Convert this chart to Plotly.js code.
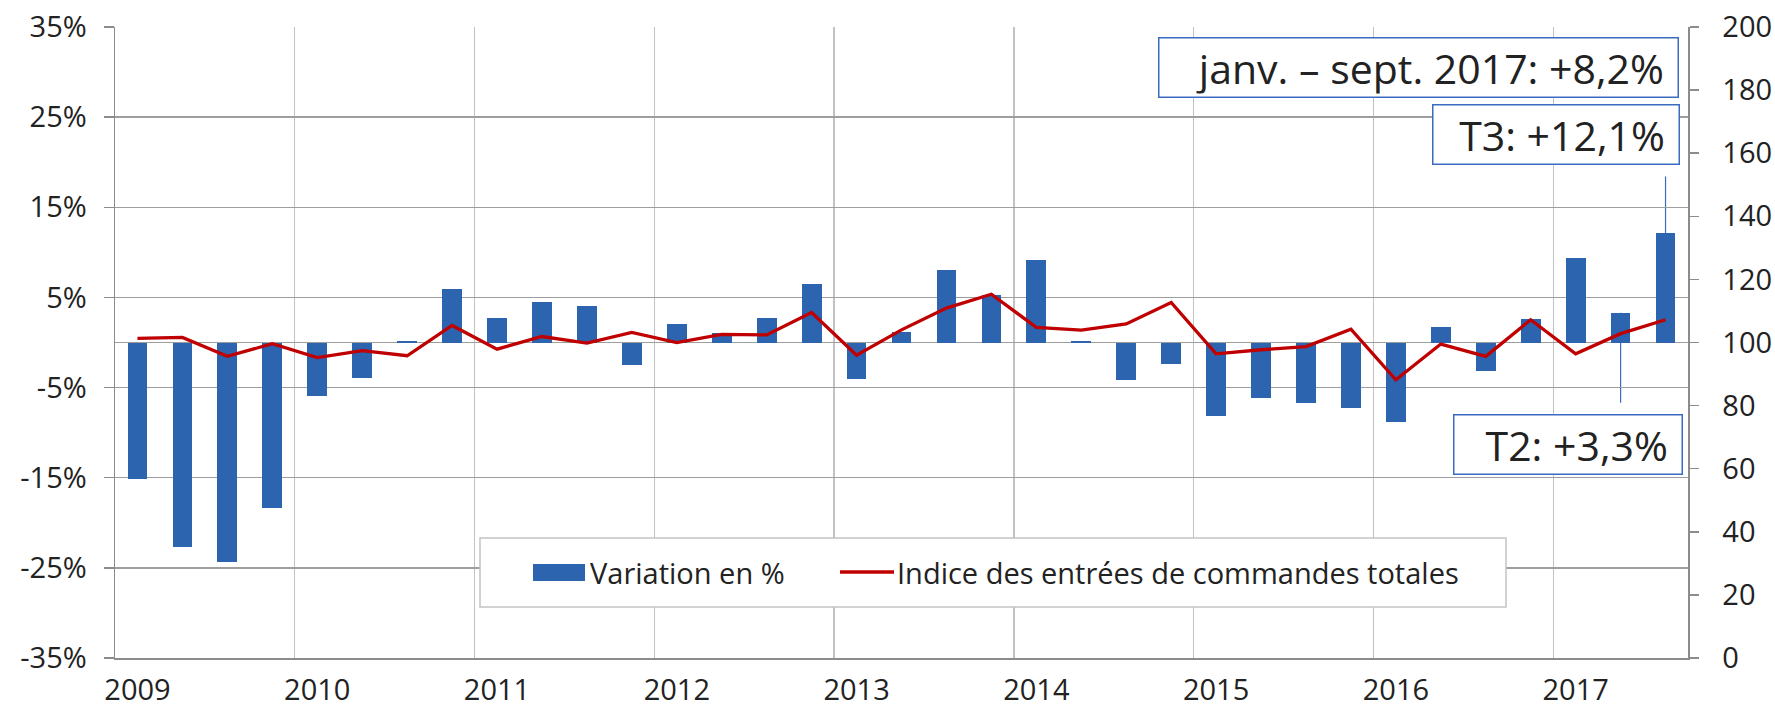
<!DOCTYPE html>
<html>
<head>
<meta charset="utf-8">
<script src="https://cdn.plot.ly/plotly-3.0.1.min.js"></script>
<style>html,body{margin:0;padding:0;background:#fff;}#chart{width:1775px;height:713px;}</style>
</head>
<body>
<div id="chart"></div>
<script>
// ---------- data ----------
const categories = [
  '2009 T1','2009 T2','2009 T3','2009 T4',
  '2010 T1','2010 T2','2010 T3','2010 T4',
  '2011 T1','2011 T2','2011 T3','2011 T4',
  '2012 T1','2012 T2','2012 T3','2012 T4',
  '2013 T1','2013 T2','2013 T3','2013 T4',
  '2014 T1','2014 T2','2014 T3','2014 T4',
  '2015 T1','2015 T2','2015 T3','2015 T4',
  '2016 T1','2016 T2','2016 T3','2016 T4',
  '2017 T1','2017 T2','2017 T3'
];
const variation = [
  -15.1, -22.7, -24.4, -18.4,
  -5.9, -3.9, 0.2, 5.9,
  2.7, 4.5, 4.1, -2.5,
  2.1, 1.0, 2.7, 6.5,
  -4.0, 1.2, 8.0, 5.3,
  9.2, 0.2, -4.2, -2.4,
  -8.1, -6.2, -6.7, -7.3,
  -8.8, 1.7, -3.2, 2.6,
  9.4, 3.3, 12.1
];
const indice = [
  101.3, 101.6, 95.6, 99.6,
  95.2, 97.4, 95.8, 105.4,
  97.9, 101.9, 99.8, 103.2,
  100.0, 102.6, 102.4, 109.5,
  96.0, 104.0, 110.9, 115.3,
  104.8, 103.9, 105.9, 112.7,
  96.4, 97.7, 98.7, 104.2,
  88.2, 99.5, 95.6, 107.2,
  96.4, 102.8, 107.2
];
const yearLabels = ['2009','2010','2011','2012','2013','2014','2015','2016','2017'];
const leftTickVals = [-35, -25, -15, -5, 5, 15, 25, 35];
const leftTickText = ['-35%', '-25%', '-15%', '-5%', '5%', '15%', '25%', '35%'];
const rightTickVals = [0, 20, 40, 60, 80, 100, 120, 140, 160, 180, 200];
const seriesNames = ['Variation en %', 'Indice des entrées de commandes totales'];
const calloutTexts = ['janv. – sept. 2017: +8,2%', 'T3: +12,1%', 'T2: +3,3%'];

// ---------- geometry ----------
const W = 1775, H = 713;
const ML = 115, MR = 87, MT = 27, MB = 55;
const PW = W - ML - MR, PH = H - MT - MB;
const px2x = p => (p - ML) / PW;
const px2y = p => (H - MB - p) / PH;

const xIdx = categories.map((c, i) => i);
// first quarter of each year carries the year label; year boundaries carry the grid
const yearLabelPos = yearLabels.map((y, i) => i * 4);
const yearGridPos = yearLabels.map((y, i) => i * 4 - 0.5);

const FONT = '"Open Sans", "Noto Sans", sans-serif';
const TXT = '#222222';
const AXC = '#8c8c8c';
const BLUE = '#2C64B0';
const RED = '#C00000';
const BOX = '#3A6BC0';

const traces = [
  {
    type: 'bar', name: seriesNames[0], x: xIdx, y: variation,
    text: categories, hovertemplate: '%{text}: %{y:.1f}%<extra></extra>',
    textposition: 'none',
    marker: { color: BLUE, line: { width: 0 } },
    width: 0.44, xaxis: 'x', yaxis: 'y', showlegend: false
  },
  {
    type: 'scatter', mode: 'lines', name: seriesNames[1], x: xIdx, y: indice,
    text: categories, hovertemplate: '%{text}: %{y:.1f}<extra></extra>',
    line: { color: RED, width: 3.3 },
    xaxis: 'x', yaxis: 'y2', showlegend: false
  }
];

const last = variation.length - 1;
const shapes = [
  // leader lines for callouts
  { type: 'line', xref: 'x', yref: 'y', ysizemode: 'pixel', x0: last, x1: last,
    yanchor: variation[last], y0: 0, y1: 57, line: { color: BOX, width: 1.2 }, layer: 'below' },
  { type: 'line', xref: 'x', yref: 'y', ysizemode: 'pixel', x0: last - 1, x1: last - 1,
    yanchor: variation[last - 1], y0: 0, y1: -90, line: { color: BOX, width: 1.2 }, layer: 'below' },
  // legend box
  { type: 'rect', xref: 'paper', yref: 'paper', x0: px2x(480), x1: px2x(1506), y0: px2y(607), y1: px2y(538),
    fillcolor: '#ffffff', line: { color: '#c4c4c4', width: 1.5 }, layer: 'above' },
  { type: 'rect', xref: 'paper', yref: 'paper', x0: px2x(533), x1: px2x(585), y0: px2y(581), y1: px2y(564),
    fillcolor: BLUE, line: { width: 0 }, layer: 'above' },
  { type: 'line', xref: 'paper', yref: 'paper', x0: px2x(840), x1: px2x(894), y0: px2y(572), y1: px2y(572),
    line: { color: RED, width: 3.3 }, layer: 'above' }
];

const calloutBase = { xref: 'paper', yref: 'paper', showarrow: false, xanchor: 'right', yanchor: 'top',
  align: 'right', valign: 'middle', bgcolor: '#ffffff', bordercolor: BOX, borderwidth: 1.5, borderpad: 3,
  font: { family: FONT, size: 41, color: TXT } };

const annotations = [
  Object.assign({}, calloutBase, { text: calloutTexts[0] + '&nbsp;', x: px2x(1679), y: px2y(37), width: 512, height: 52 }),
  Object.assign({}, calloutBase, { text: calloutTexts[1] + '&nbsp;', x: px2x(1680), y: px2y(104), width: 239, height: 52 }),
  Object.assign({}, calloutBase, { text: calloutTexts[2] + '&nbsp;', x: px2x(1683), y: px2y(414), width: 221, height: 52 }),
  { xref: 'paper', yref: 'paper', showarrow: false, xanchor: 'left', yanchor: 'middle',
    x: px2x(588), y: px2y(572), text: seriesNames[0], font: { family: FONT, size: 29, color: TXT } },
  { xref: 'paper', yref: 'paper', showarrow: false, xanchor: 'left', yanchor: 'middle',
    x: px2x(895), y: px2y(572), text: seriesNames[1], font: { family: FONT, size: 29, color: TXT } }
];

const layout = {
  width: W, height: H,
  margin: { l: ML, r: MR, t: MT, b: MB, pad: 0 },
  paper_bgcolor: '#ffffff', plot_bgcolor: '#ffffff',
  showlegend: false,
  font: { family: FONT, size: 29, color: TXT },
  bargap: 0,
  xaxis: {
    type: 'linear', range: [-0.5, categories.length - 0.5], fixedrange: true,
    tickmode: 'array', tickvals: yearLabelPos, ticktext: yearLabels,
    ticklabelstandoff: 6,
    ticks: '', showgrid: false,
    minor: { tickmode: 'array', tickvals: yearGridPos, ticks: '', showgrid: true, gridcolor: '#c2c2c2', gridwidth: 1.3 },
    zeroline: false, showline: true, linecolor: AXC, linewidth: 1.5,
    tickfont: { family: FONT, size: 29, color: TXT }
  },
  yaxis: {
    range: [-35, 35], fixedrange: true,
    tickmode: 'array', tickvals: leftTickVals, ticktext: leftTickText,
    showgrid: true, gridcolor: '#9e9e9e', gridwidth: 1.4,
    zeroline: true, zerolinecolor: '#9e9e9e', zerolinewidth: 1.5,
    showline: true, linecolor: AXC, linewidth: 1.5,
    ticks: 'outside', ticklen: 10, tickwidth: 1.5, tickcolor: AXC,
    ticklabelstandoff: 11,
    tickfont: { family: FONT, size: 29, color: TXT }
  },
  yaxis2: {
    overlaying: 'y', side: 'right', range: [0, 200], fixedrange: true,
    tickmode: 'array', tickvals: rightTickVals,
    showgrid: false, zeroline: false,
    showline: true, linecolor: AXC, linewidth: 1.5,
    ticks: 'outside', ticklen: 9, tickwidth: 1.5, tickcolor: AXC,
    ticklabelstandoff: 18,
    tickfont: { family: FONT, size: 29, color: TXT }
  },
  shapes: shapes,
  annotations: annotations
};

Plotly.newPlot('chart', traces, layout, { displayModeBar: false, staticPlot: true });
</script>
</body>
</html>
